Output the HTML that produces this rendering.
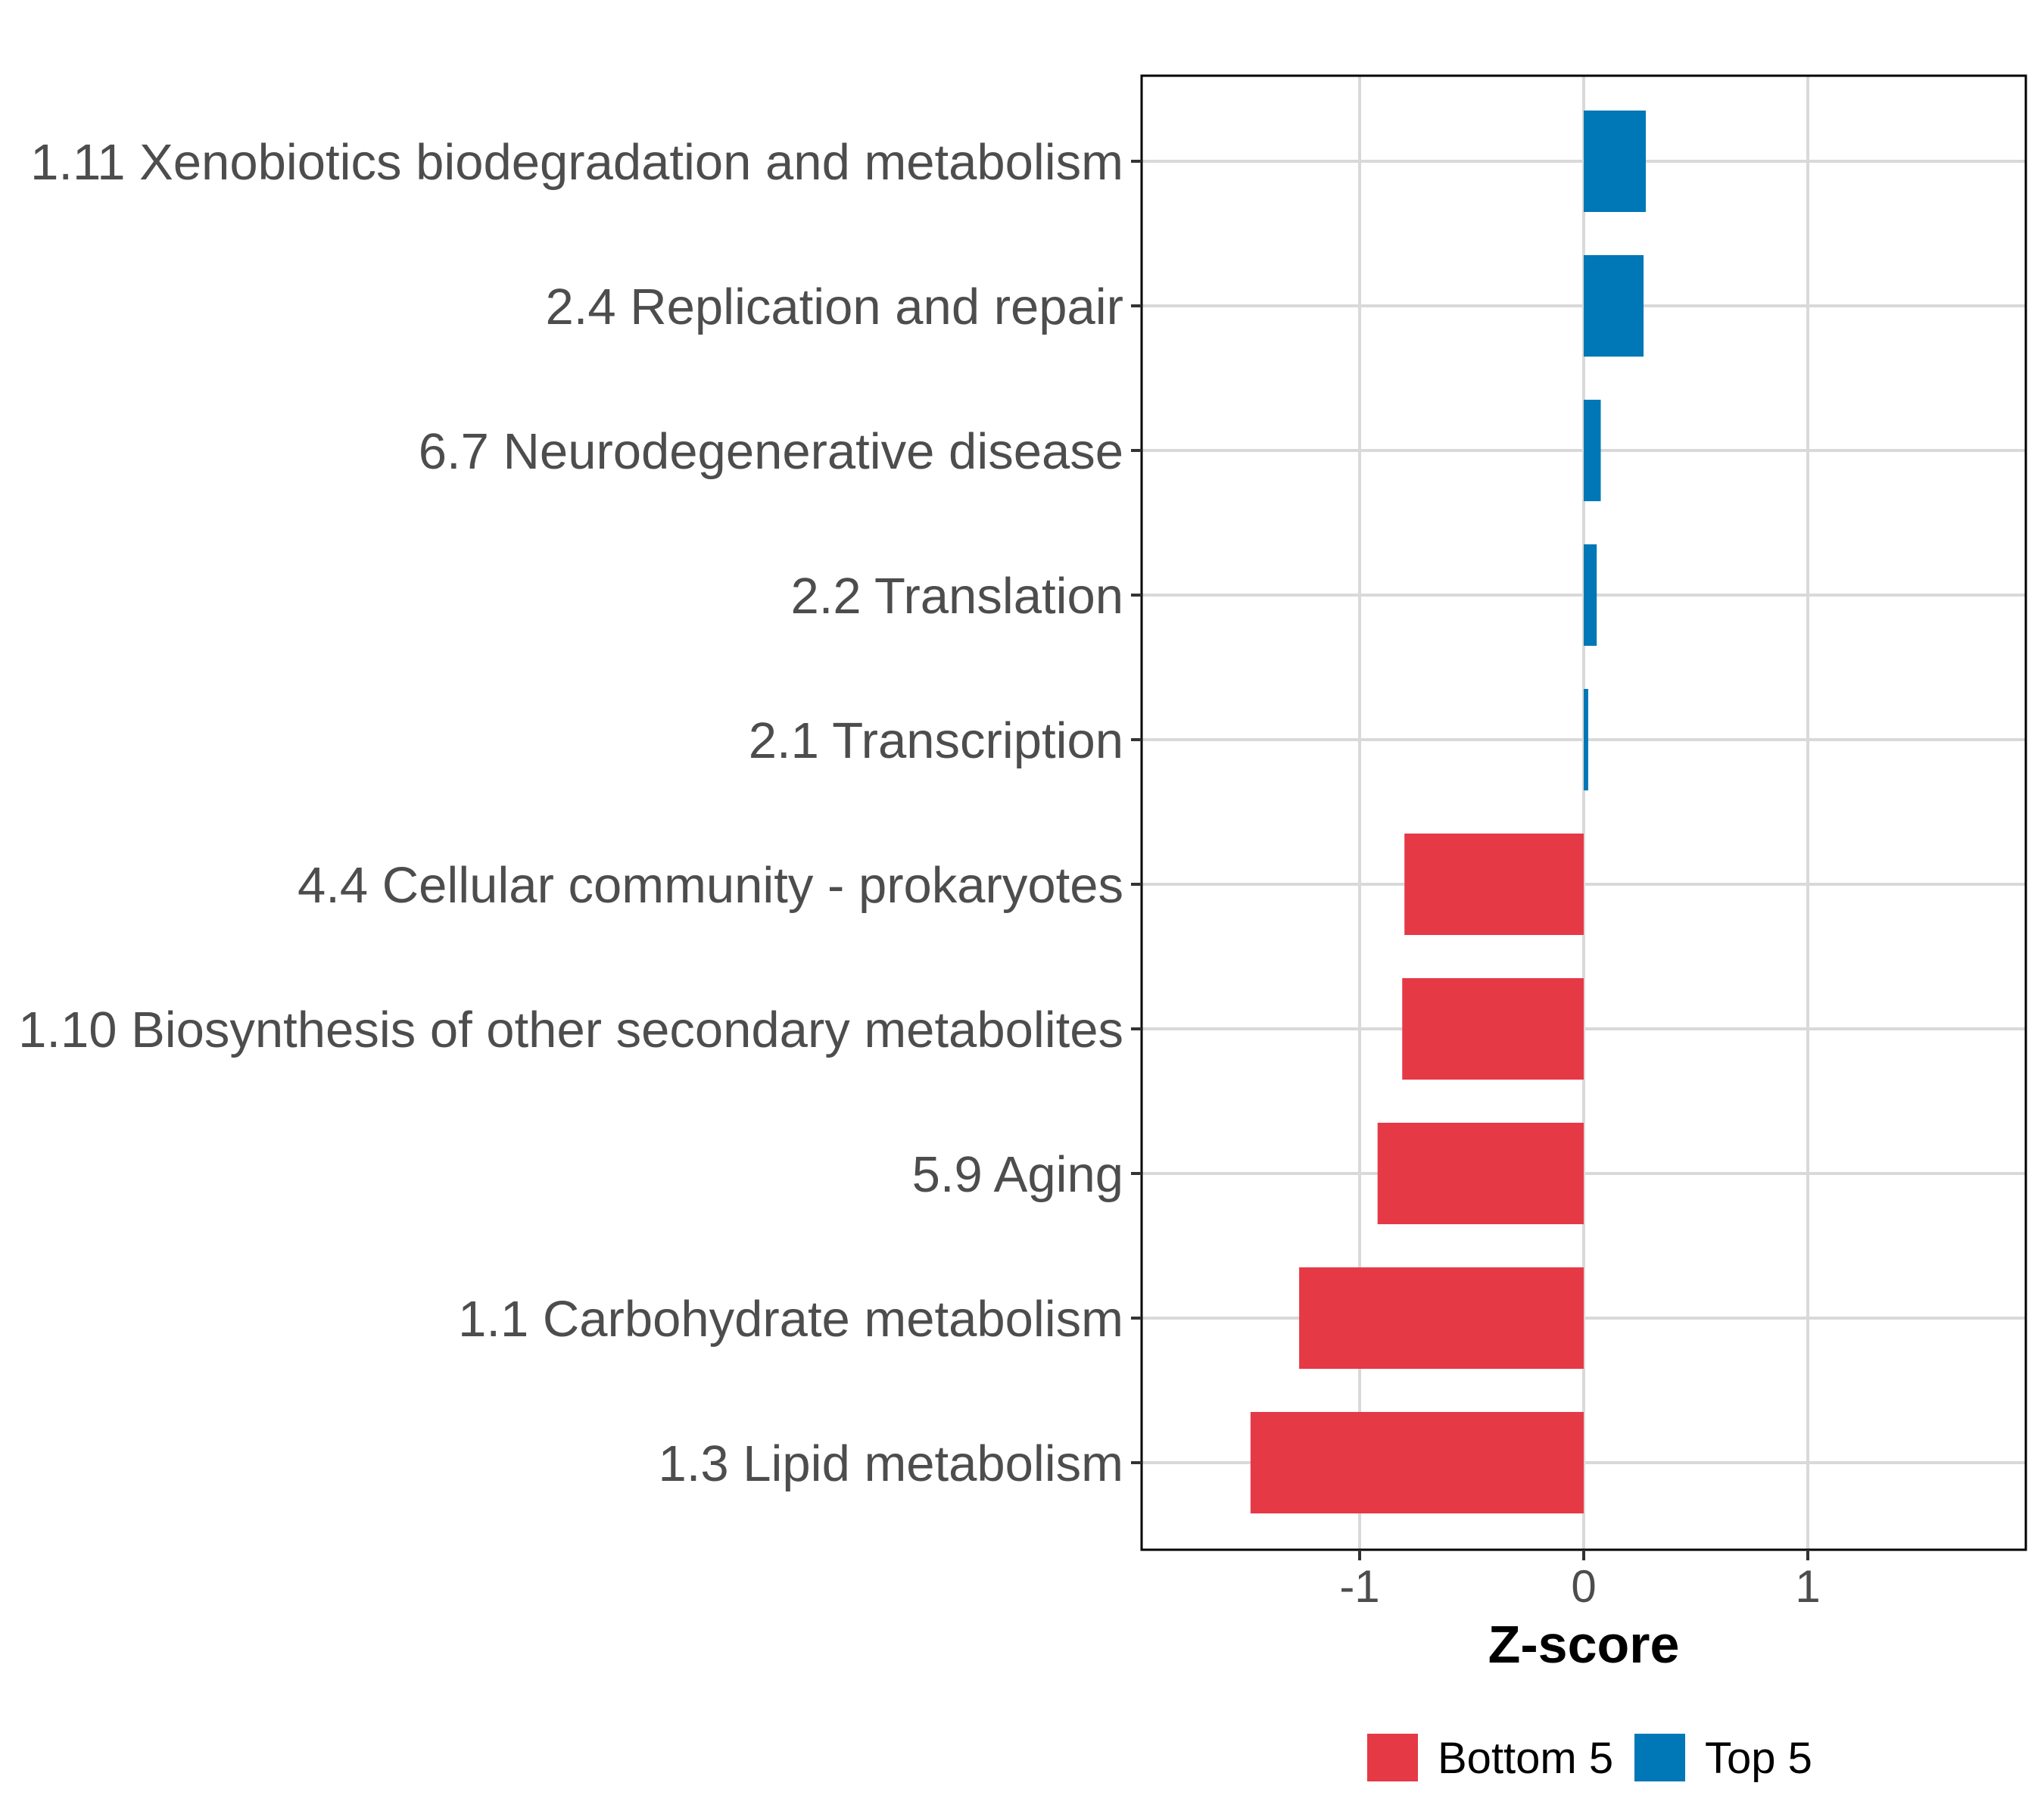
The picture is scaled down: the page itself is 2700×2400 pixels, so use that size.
<!DOCTYPE html>
<html><head><meta charset="utf-8"><style>body{margin:0;background:#fff}svg{display:block}</style></head>
<body>
<svg id="chart" width="2700" height="2400" viewBox="0 0 2700 2400" xmlns="http://www.w3.org/2000/svg" font-family="Liberation Sans, sans-serif"></svg>
<script>
const categories = ["1.11 Xenobiotics biodegradation and metabolism","2.4 Replication and repair","6.7 Neurodegenerative disease","2.2 Translation","2.1 Transcription","4.4 Cellular community - prokaryotes","1.10 Biosynthesis of other secondary metabolites","5.9 Aging","1.1 Carbohydrate metabolism","1.3 Lipid metabolism"];
const values = [0.277,0.267,0.076,0.058,0.02,-0.80,-0.81,-0.92,-1.27,-1.487];
const groups = ["Top 5","Top 5","Top 5","Top 5","Top 5","Bottom 5","Bottom 5","Bottom 5","Bottom 5","Bottom 5"];
const xTicks = [-1,0,1];
const xTickLabels = ["-1","0","1"];
const legendLabels = ["Bottom 5","Top 5"];
const colors = {"Bottom 5":"#E63946","Top 5":"#0077B6"};

const NS="http://www.w3.org/2000/svg";
const svg=document.getElementById('chart');
const L=1508,R=2676,T=100,B=2047;
const x=v=>2092+v*296;
const y=i=>213+i*191;
const bh=134;
function mk(tag,attrs,parent){const e=document.createElementNS(NS,tag);for(const k in attrs)e.setAttribute(k,attrs[k]);(parent||svg).appendChild(e);return e;}
xTicks.forEach((t,i)=>{
 const g=mk('line',{x1:x(t),x2:x(t),y1:T,y2:B,stroke:'#d9d9d9','stroke-width':4});
 
 
});
categories.forEach((c,i)=>{
 const g=mk('line',{x1:L,x2:R,y1:y(i),y2:y(i),stroke:'#d9d9d9','stroke-width':4});
 
 
});
values.forEach((v,i)=>{
 const r=mk('rect',{x:Math.min(x(0),x(v)),y:y(i)-bh/2,width:Math.abs(x(v)-x(0)),height:bh,fill:colors[groups[i]]});
 
 
});
const bd=mk('rect',{x:L,y:T,width:R-L,height:B-T,fill:'none',stroke:'#000','stroke-width':3});


categories.forEach((c,i)=>{
 const tk=mk('line',{x1:L-14,x2:L,y1:y(i),y2:y(i),stroke:'#333','stroke-width':4});
 
 
 const t=mk('text',{x:L-24,y:y(i)+24,'text-anchor':'end','font-size':67,fill:'#4d4d4d'});
 t.textContent=c;
 
 
});
xTicks.forEach((tv,i)=>{
 const tk=mk('line',{x1:x(tv),x2:x(tv),y1:B,y2:B+14,stroke:'#333','stroke-width':4});
 
 
 const t=mk('text',{x:x(tv),y:2116,'text-anchor':'middle','font-size':60,fill:'#4d4d4d'});
 t.textContent=xTickLabels[i];
 
 
});
const xt=mk('text',{x:2092,y:2196,'text-anchor':'middle','font-size':70,'font-weight':'bold',fill:'#000'});
xt.textContent='Z-score';


const lx=[1806,2159],tx=[1899,2252];
legendLabels.forEach((lab,i)=>{
 const k=mk('rect',{x:lx[i],y:2290,width:67,height:63,fill:colors[lab]});
 
 
 const t=mk('text',{x:tx[i],y:2342,'font-size':58,fill:'#000'});
 t.textContent=lab;
 
 
});
</script>
</body></html>
